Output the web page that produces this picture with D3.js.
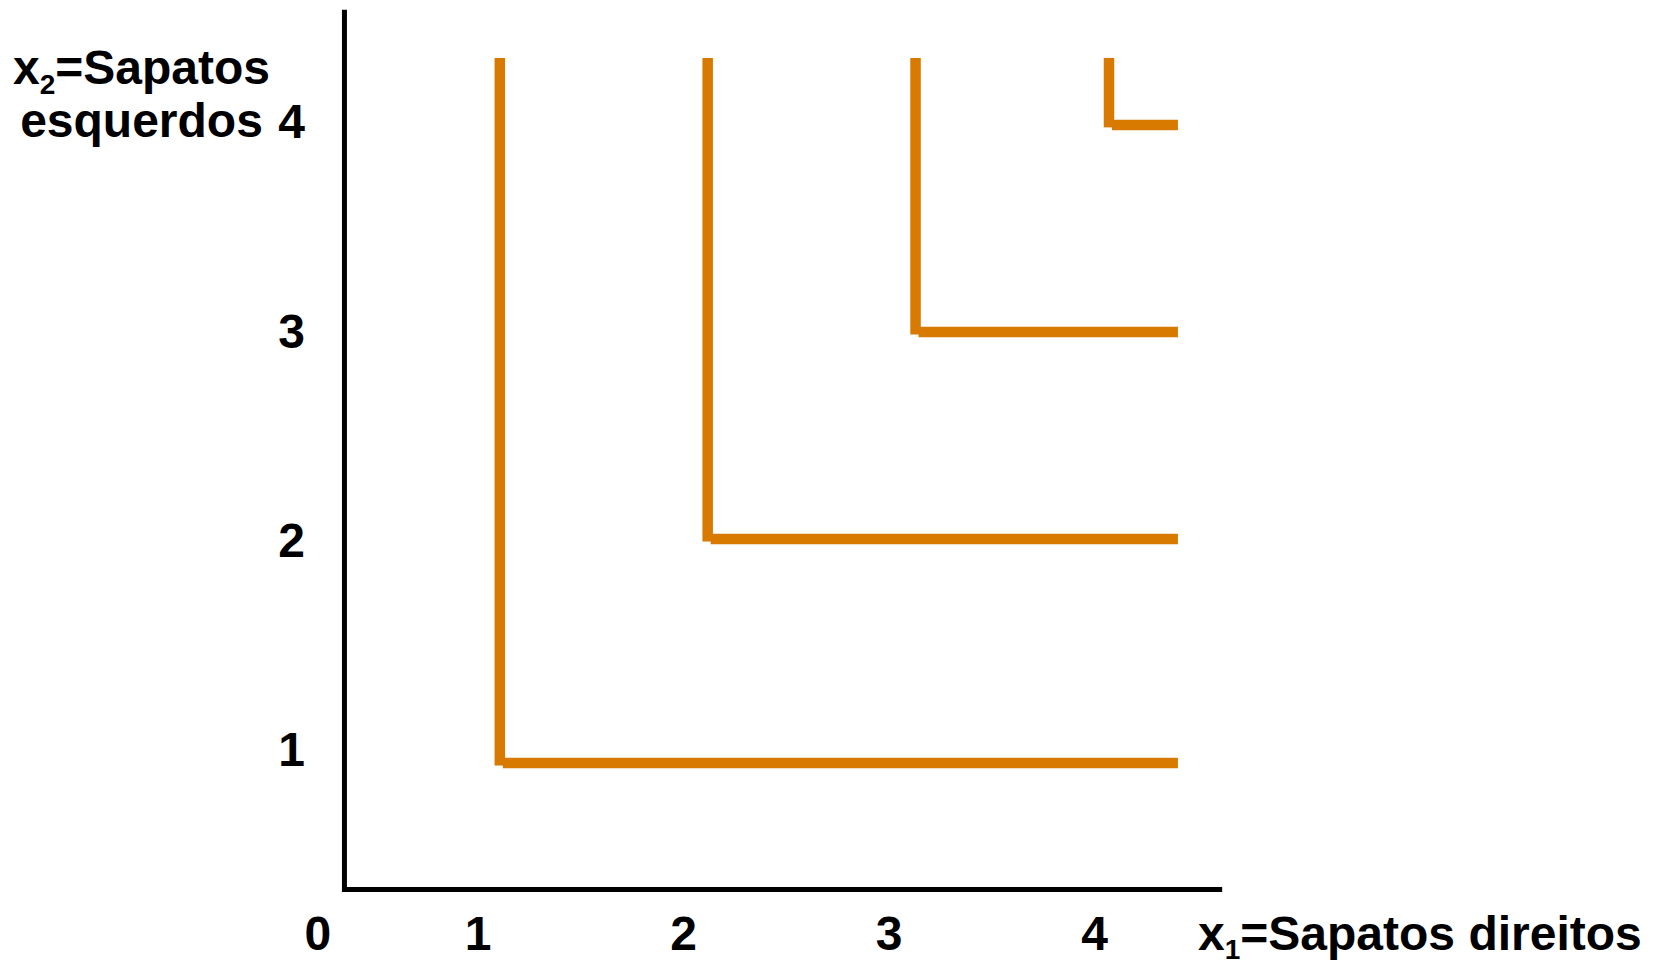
<!DOCTYPE html>
<html lang="pt">
<head>
    <meta charset="UTF-8">
    <title>Complementos perfeitos: sapatos</title>
    <script src="https://d3js.org/d3.v7.min.js"></script>
    <style>
        body { margin: 0; background: #fff; }
        svg { display: block; }
        text { font-family: "Liberation Sans", Arial, sans-serif; font-weight: bold; fill: #000; }
        .tick text { font-size: 48px; }
        .title { font-size: 48px; }
        .curve { fill: none; stroke: #d87a00; stroke-width: 10.5; stroke-linecap: butt; }
    </style>
</head>
<body>
    <svg width="1665" height="960"></svg>
    <script>
        // cantos das curvas de indiferença
        const cornerX = [1.09, 2.10, 3.11, 4.05];
        const cornerY = [0.93, 2.00, 2.99, 3.98];
        const curveTop = 4.3;      // onde começam os traços verticais
        const curveEnd = 4.385;    // onde acabam os traços horizontais

        const xTicks = [1, 2, 3, 4];
        const yTicks = [1, 2, 3, 4];
        const originLabel = "0";
        const originX = 0.335, originY = 0.325;
        const xAxisEnd = 4.6, yAxisEnd = 4.53;

        const svg = d3.select("svg");

        const x = d3.scaleLinear().domain([0, 4]).range([272, 1094]);
        const y = d3.scaleLinear().domain([0, 4]).range([957.5, 120.7]);

        const curves = cornerX.map((cx, i) => ({ cx, cy: cornerY[i] }));
        const px = d3.scaleLinear().domain([0, 4]).range([275.5, 1098.7]); // posição das curvas

        // traço vertical: desce um pouco abaixo do canto
        svg.selectAll(".curve-v")
            .data(curves)
            .enter().append("line")
            .attr("class", "curve")
            .attr("x1", d => px(d.cx)).attr("x2", d => px(d.cx))
            .attr("y1", y(curveTop))
            .attr("y2", d => y(d.cy) + 2.5);

        // traço horizontal: começa ligeiramente à direita do canto
        svg.selectAll(".curve-h")
            .data(curves)
            .enter().append("line")
            .attr("class", "curve")
            .attr("x1", d => px(d.cx) + 3)
            .attr("x2", px(curveEnd))
            .attr("y1", d => y(d.cy)).attr("y2", d => y(d.cy));

        // eixos
        svg.append("path")
            .attr("d", `M${px(originX)},${y(yAxisEnd)} V${y(originY)} H${px(xAxisEnd)}`)
            .attr("fill", "none")
            .attr("stroke", "#000")
            .attr("stroke-width", 5)
            .attr("stroke-linejoin", "miter");

        const gx = svg.append("g")
            .attr("transform", `translate(0,${y(originY)})`)
            .call(d3.axisBottom(x).tickValues(xTicks).tickSize(0).tickFormat(d3.format("d")));
        gx.select(".domain").remove();
        gx.selectAll("text").attr("dy", null).attr("y", 60.5);

        const gy = svg.append("g")
            .attr("transform", `translate(${px(originX)},0)`)
            .call(d3.axisLeft(y).tickValues(yTicks).tickSize(0).tickPadding(39.5).tickFormat(d3.format("d")));
        gy.select(".domain").remove();
        gy.selectAll("text").attr("dy", "0.36em");
        svg.selectAll(".tick").attr("font-family", null).attr("font-size", null);
        svg.selectAll("g").attr("font-family", null).attr("font-size", null);

        // "0" na origem
        svg.append("text")
            .attr("class", "title")
            .attr("x", px(originX) - 26.5)
            .attr("y", y(originY) + 60.5)
            .attr("text-anchor", "middle")
            .text(originLabel);

        // título do eixo x
        const tx = svg.append("text")
            .attr("class", "title")
            .attr("x", 1198)
            .attr("y", 950);
        tx.append("tspan").text("x");
        tx.append("tspan").attr("font-size", 28).attr("dy", 9).text("1");
        tx.append("tspan").attr("dy", -9).text("=Sapatos direitos");

        // título do eixo y (duas linhas)
        const ty = svg.append("text")
            .attr("class", "title")
            .attr("text-anchor", "middle")
            .attr("x", 141.5)
            .attr("y", 84);
        ty.append("tspan").text("x");
        ty.append("tspan").attr("font-size", 28).attr("dy", 10).text("2");
        ty.append("tspan").attr("dy", -10).text("=Sapatos");
        svg.append("text")
            .attr("class", "title")
            .attr("text-anchor", "middle")
            .attr("x", 141.5)
            .attr("y", 137)
            .text("esquerdos");
    </script>
</body>
</html>
